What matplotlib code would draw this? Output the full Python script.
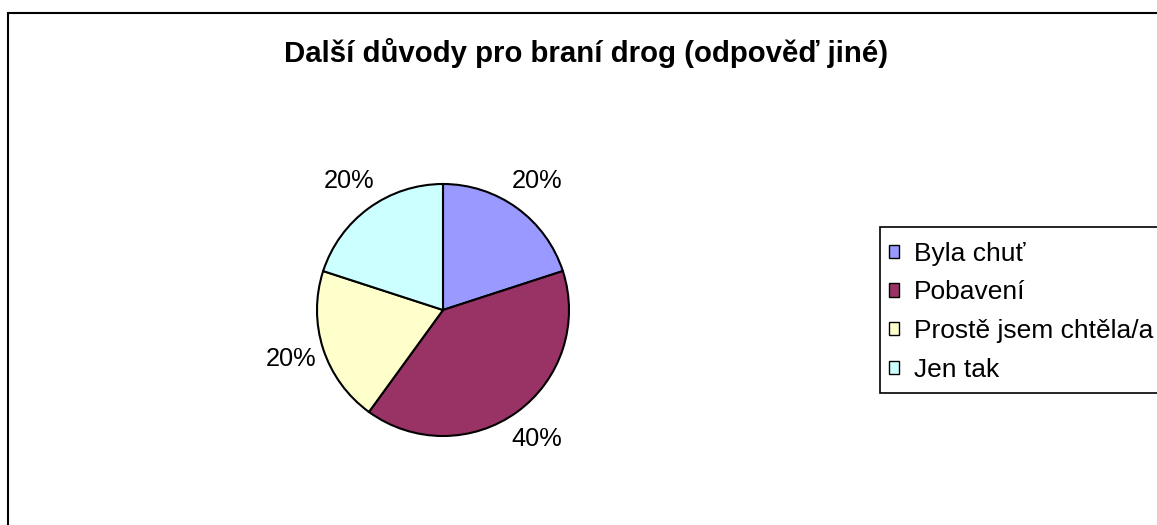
import matplotlib
matplotlib.use("Agg")
import matplotlib.pyplot as plt
from matplotlib.patches import Rectangle

plt.rcParams['font.family'] = ['Liberation Sans', 'DejaVu Sans']

# data
categories = ["Byla chuť", "Pobavení", "Prostě jsem chtěla/a", "Jen tak"]
shares = [20, 40, 20, 20]
colors = ["#9999FF", "#993366", "#FFFFCC", "#CCFFFF"]
title = "Další důvody pro braní drog (odpověď jiné)"

W, H = 1157, 525
fig = plt.figure(figsize=(W / 100, H / 100), dpi=100)

# outer chart border (runs off the right and bottom edge)
fig.patches.append(Rectangle((8 / W, -0.1), 1.2, (H - 13) / H + 0.1,
                             transform=fig.transFigure, fill=False,
                             edgecolor="black", linewidth=1.5))

fig.text(586 / W, 1 - 53 / H, title, ha="center", va="center",
         fontsize=21.2, fontweight="bold")

# pie axes: centre (443, 310), radius ~126 px
cx, cy, r = 443, 310, 126
ax = fig.add_axes([(cx - r) / W, (H - cy - r) / H, 2 * r / W, 2 * r / H])
wedges, texts, autotexts = ax.pie(
    shares, colors=colors, startangle=90, counterclock=False,
    autopct="%d%%", pctdistance=1.27,
    wedgeprops=dict(edgecolor="black", linewidth=1.5),
    textprops=dict(fontsize=18.3))
ax.set_xlim(-1, 1)
ax.set_ylim(-1, 1)
ax.set_aspect("equal")
ax.axis("off")

# legend box (also runs off the right edge), drawn separately from the entries
fig.patches.append(Rectangle((880 / W, 1 - 393 / H), 0.5, 166 / H,
                             transform=fig.transFigure, facecolor="white",
                             edgecolor="black", linewidth=1.2))
leg = fig.legend(wedges, categories, loc="upper left",
                 bbox_to_anchor=(880 / W, 1 - 233 / H),
                 fontsize=19, frameon=False,
                 handlelength=0.4, handleheight=0.4, handletextpad=0.55,
                 borderpad=0.33, labelspacing=0.56, borderaxespad=0)
for h in leg.legend_handles:
    h.set_linewidth(1.0)

fig.savefig("out.png", dpi=100)
